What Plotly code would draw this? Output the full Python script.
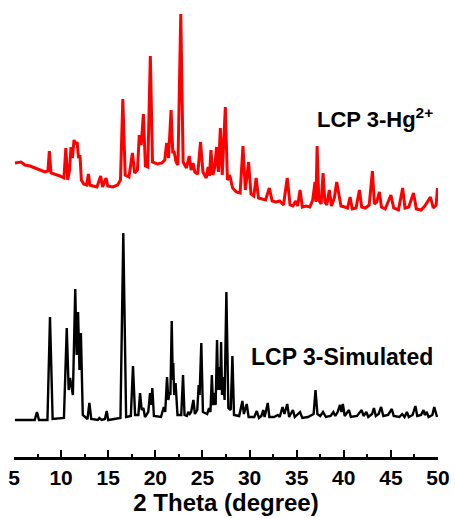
import plotly.graph_objects as go

# ---- data (2 Theta in degree, intensity in arbitrary units; experimental pattern is offset upward) ----
hg_theta = [5.1, 5.74, 6.17, 6.70, 7.23, 7.76, 8.29, 8.6, 8.75, 8.93, 9.35, 9.88, 10.3, 10.5, 10.7, 10.9,
            11.05, 11.2, 11.37, 11.55, 11.7, 11.85, 12.0, 12.15, 12.4, 12.7, 12.9, 13.05, 13.4, 13.8, 14.2,
            14.4, 14.77, 14.95, 15.5, 16.0, 16.3, 16.55, 16.8, 17.2, 17.57, 17.8, 18.1, 18.3, 18.5, 18.73,
            18.95, 19.2, 19.47, 19.7, 20.2, 20.7, 21.0, 21.2, 21.4, 21.67, 21.85, 22.0, 22.2, 22.4, 22.7,
            22.95, 23.3, 23.6, 23.8, 24.0, 24.2, 24.5, 24.8, 25.05, 25.4, 25.6, 25.75, 25.9, 26.1, 26.3,
            26.5, 26.7, 26.9, 27.1, 27.43, 27.65, 27.9, 28.2, 28.6, 29.0, 29.3, 29.55, 29.9, 30.15, 30.45,
            30.7, 30.95, 31.4, 31.7, 32.1, 32.4, 32.8, 33.2, 33.6, 34.0, 34.3, 34.6, 34.9, 35.1, 35.36,
            35.6, 36.0, 36.4, 36.7, 36.95, 37.05, 37.17, 37.35, 37.6, 37.8, 38.0, 38.2, 38.46, 38.7, 39.0,
            39.25, 39.45, 39.7, 40.1, 40.4, 40.67, 40.9, 41.3, 41.66, 41.9, 42.3, 42.7, 43.04, 43.25, 43.5,
            43.78, 44.0, 44.4, 45.0, 45.3, 45.8, 46.25, 46.5, 46.9, 47.4, 47.7, 48.2, 48.6, 49.2, 49.5,
            49.8, 49.94]
hg_intensity = [257, 258, 255, 254, 252, 250, 248, 249, 269, 247, 246, 244, 242, 272, 240, 250,
                273, 262, 280, 276, 278, 262, 265, 240, 236, 235, 246, 235, 234, 233, 244,
                233, 242, 234, 233, 235, 240, 321, 245, 243, 267, 247, 250, 285, 275, 306,
                254, 253, 364, 258, 256, 257, 260, 277, 262, 310, 268, 268, 258, 255, 406,
                258, 252, 264, 250, 257, 248, 246, 278, 248, 242, 253, 244, 270, 245, 252,
                273, 248, 292, 245, 313, 240, 245, 232, 228, 227, 274, 230, 258, 226, 224,
                242, 222, 221, 220, 232, 219, 218, 219, 215, 242, 215, 214, 219, 214, 230,
                213, 214, 213, 220, 238, 218, 274, 220, 216, 247, 218, 215, 230, 214, 222,
                238, 228, 214, 213, 212, 223, 211, 212, 230, 213, 212, 215, 249, 216, 218,
                228, 213, 211, 225, 212, 210, 232, 212, 213, 227, 211, 210, 214, 223, 212,
                215, 232]

sim_theta = [5.1, 7.2, 7.44, 7.65, 8.55, 8.82, 9.1, 10.3, 10.6, 10.8, 10.95, 11.1, 11.25, 11.5, 11.65,
             11.8, 11.95, 12.1, 12.3, 12.8, 13.0, 13.2, 13.9, 14.06, 14.3, 14.65, 14.84, 15.0, 16.3,
             16.6, 16.9, 17.4, 17.63, 17.85, 18.2, 18.38, 18.55, 18.73, 18.9, 19.25, 19.44, 19.55, 19.68,
             19.85, 20.6, 20.9, 21.05, 21.24, 21.38, 21.5, 21.6, 21.74, 21.85, 21.9, 22.0, 22.15, 22.35,
             22.75, 22.94, 23.1, 23.35, 23.5, 23.65, 23.8, 24.04, 24.2, 24.45, 24.6, 24.7, 24.88, 25.05,
             25.5, 25.7, 25.85, 26.0, 26.12, 26.26, 26.4, 26.55, 26.66, 26.76, 26.88, 26.98, 27.08, 27.2,
             27.35, 27.54, 27.75, 28.0, 28.18, 28.35, 28.9, 29.05, 29.24, 29.4, 29.7, 29.9, 30.5, 30.77,
             31.0, 31.25, 31.45, 31.6, 31.93, 32.1, 32.6, 33.0, 33.2, 33.5, 33.7, 34.0, 34.2, 34.6, 34.8,
             35.36, 35.6, 36.2, 36.8, 37.0, 37.2, 37.5, 37.8, 38.1, 38.6, 38.9, 39.1, 39.35, 39.6, 39.75,
             39.9, 40.1, 40.55, 40.75, 41.4, 41.9, 42.1, 42.4, 42.6, 43.0, 43.2, 43.4, 43.7, 43.96, 44.2,
             44.7, 45.1, 45.3, 45.9, 46.2, 46.45, 46.7, 46.9, 47.3, 47.6, 47.8, 48.2, 48.45, 48.6, 48.8,
             49.0, 49.4, 49.6, 49.9]
sim_intensity = [0, 0, 8, 0, 0, 103, 1, 2, 92, 30, 42, 32, 25, 131, 65,
                 108, 50, 87, 5, 1, 17, 1, 0, 2, 0, 1, 9, 0, 2,
                 187, 3, 4, 54, 5, 5, 27, 10, 12, 3, 8, 27, 15, 32,
                 4, 3, 13, 8, 43, 20, 28, 25, 99, 40, 57, 25, 37, 5,
                 5, 45, 5, 4, 8, 6, 8, 20, 6, 10, 35, 25, 77, 8,
                 6, 12, 8, 45, 15, 27, 15, 80, 30, 53, 30, 78, 25, 43,
                 20, 128, 12, 10, 64, 5, 4, 12, 19, 6, 16, 3, 3, 9,
                 2, 4, 10, 3, 17, 3, 3, 5, 3, 13, 6, 16, 3, 10, 3,
                 8, 2, 3, 6, 30, 6, 4, 8, 3, 4, 8, 4, 8, 15, 8,
                 16, 4, 10, 3, 4, 10, 4, 8, 3, 6, 12, 4, 6, 13, 4,
                 5, 11, 4, 3, 6, 3, 8, 3, 5, 14, 4, 5, 10, 5, 8,
                 3, 5, 13, 3]

x_ticks = [5, 10, 15, 20, 25, 30, 35, 40, 45, 50]
label_hg = "LCP 3-Hg<sup>2+</sup>"
label_sim = "LCP 3-Simulated"
x_title = "2 Theta (degree)"

FONT = "Liberation Sans, Arial, sans-serif"

fig = go.Figure()
fig.add_trace(go.Scatter(x=hg_theta, y=hg_intensity, mode="lines",
                         line=dict(color="#ff0000", width=3), showlegend=False))
fig.add_trace(go.Scatter(x=sim_theta, y=sim_intensity, mode="lines",
                         line=dict(color="#000000", width=2.4), showlegend=False))

fig.add_annotation(x=36.9, y=302, xref="x", yref="y", text=label_hg, showarrow=False,
                   xanchor="left", yanchor="middle",
                   font=dict(family=FONT, size=22, color="#000000", weight="bold"))
fig.add_annotation(x=49.7, y=63, xref="x", yref="y", text=label_sim, showarrow=False,
                   xanchor="right", yanchor="middle",
                   font=dict(family=FONT, size=23, color="#000000", weight="bold"))

fig.update_layout(
    width=455, height=518,
    margin=dict(l=14, r=17, t=10, b=61),
    paper_bgcolor="white", plot_bgcolor="white",
    xaxis=dict(range=[5, 50], tickmode="array", tickvals=x_ticks, ticktext=[str(v) for v in x_ticks],
               automargin=False,
               showline=True, linecolor="black", linewidth=3, mirror=False,
               ticks="inside", ticklen=7, tickwidth=2, tickcolor="black",
               minor=dict(ticks="inside", ticklen=3, tickwidth=2, dtick=2.5, tick0=5, tickcolor="black"),
               showgrid=False, zeroline=False,
               tickfont=dict(family=FONT, size=21, color="black", weight="bold"),
               title=dict(text=x_title, standoff=2,
                          font=dict(family=FONT, size=24, color="black", weight="bold"))),
    yaxis=dict(range=[-37, 410], visible=False, showgrid=False, zeroline=False),
)

fig.write_html("out.html", config={"displayModeBar": False},
               post_script="document.body.style.margin='0';document.body.style.overflow='hidden';")
